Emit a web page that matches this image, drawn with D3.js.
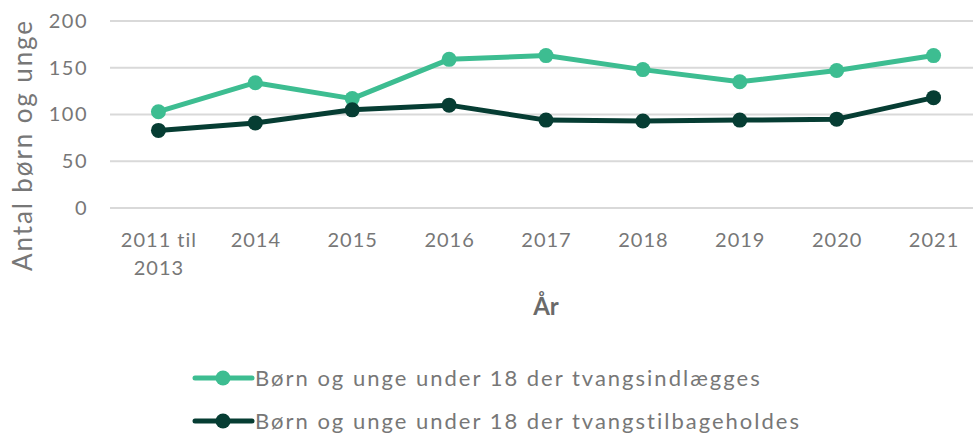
<!DOCTYPE html>
<html><head><meta charset="utf-8">
<script src="https://cdn.jsdelivr.net/npm/d3@7"></script>
<style>body{margin:0;background:#fff}svg{display:block;font-family:Lato,"Open Sans",sans-serif}</style>
</head><body><svg id="c" width="973" height="434"></svg>
<script>
const categories = ["2011 til\n2013","2014","2015","2016","2017","2018","2019","2020","2021"];
const seriesNames = ["Børn og unge under 18 der tvangsindlægges","Børn og unge under 18 der tvangstilbageholdes"];
const indlaegges = [103,134,117,159,163,148,135,147,163];
const tilbageholdes = [83,91,105,110,94,93,94,95,118];
const yTicks = [0,50,100,150,200];
const colors = ["#3dbd91","#063d33"];
const yTitle = "Antal børn og unge";
const xTitle = "År";

const svg = d3.select("#c");
const x = d3.scalePoint().domain(categories).range([110,982]).padding(0.5);
const y = d3.scaleLinear().domain([0,200]).range([208,21]);
const gray = "#777777";

// grid
svg.append("g").selectAll("line").data(yTicks).join("line")
  .attr("x1",110).attr("x2",973).attr("y1",d=>y(d)).attr("y2",d=>y(d))
  .attr("stroke","#d9d9d9").attr("stroke-width",2);

// y axis labels
const yAxis = svg.append("g").attr("transform","translate(88,0)")
  .call(d3.axisLeft(y).tickValues(yTicks).tickSize(0).tickPadding(0));
yAxis.select(".domain").remove();
yAxis.selectAll("text").attr("font-size",20).attr("fill",gray).attr("font-family","Lato").attr("letter-spacing","1.5px");

// x axis labels
const xAxis = svg.append("g").attr("transform","translate(0,228)")
  .call(d3.axisBottom(x).tickSize(0).tickPadding(0).tickFormat(""));
xAxis.select(".domain").remove();
xAxis.selectAll(".tick").each(function(d){
  const t = d3.select(this).append("text").attr("fill",gray).attr("font-size",20)
    .attr("font-family","Lato").attr("text-anchor","middle").attr("letter-spacing","1px");
  d.split("\n").forEach((s,i)=>t.append("tspan").attr("x",0).attr("y",19+i*28).text(s));
});

// titles
svg.append("text").attr("transform","translate(32,145) rotate(-90)").attr("text-anchor","middle")
  .attr("font-size",26).attr("fill",gray).attr("letter-spacing","1.9px").text(yTitle);
svg.append("text").attr("x",546).attr("y",315).attr("text-anchor","middle")
  .attr("font-size",24).attr("font-weight","bold").attr("fill","#6a6a6a").text(xTitle);

// lines
const series = [indlaegges, tilbageholdes];
const line = d3.line().x((d,i)=>x(categories[i])).y(d=>y(d));
series.forEach((s,k)=>{
  svg.append("path").datum(s).attr("d",line).attr("fill","none")
    .attr("stroke",colors[k]).attr("stroke-width",5).attr("stroke-linejoin","round");
  svg.append("g").selectAll("circle").data(s).join("circle")
    .attr("cx",(d,i)=>x(categories[i])).attr("cy",d=>y(d)).attr("r",7.5).attr("fill",colors[k]);
});

// legend
const lg = svg.append("g").selectAll("g").data(seriesNames).join("g")
  .attr("transform",(d,i)=>`translate(0,${378+i*43})`);
lg.append("line").attr("x1",195).attr("x2",252).attr("stroke",(d,i)=>colors[i]).attr("stroke-width",5).attr("stroke-linecap","round");
lg.append("circle").attr("cx",223).attr("r",7.5).attr("fill",(d,i)=>colors[i]);
lg.append("text").attr("x",255).attr("y",8).attr("font-size",22).attr("fill",gray)
  .attr("letter-spacing","2px").text(d=>d);
</script></body></html>
